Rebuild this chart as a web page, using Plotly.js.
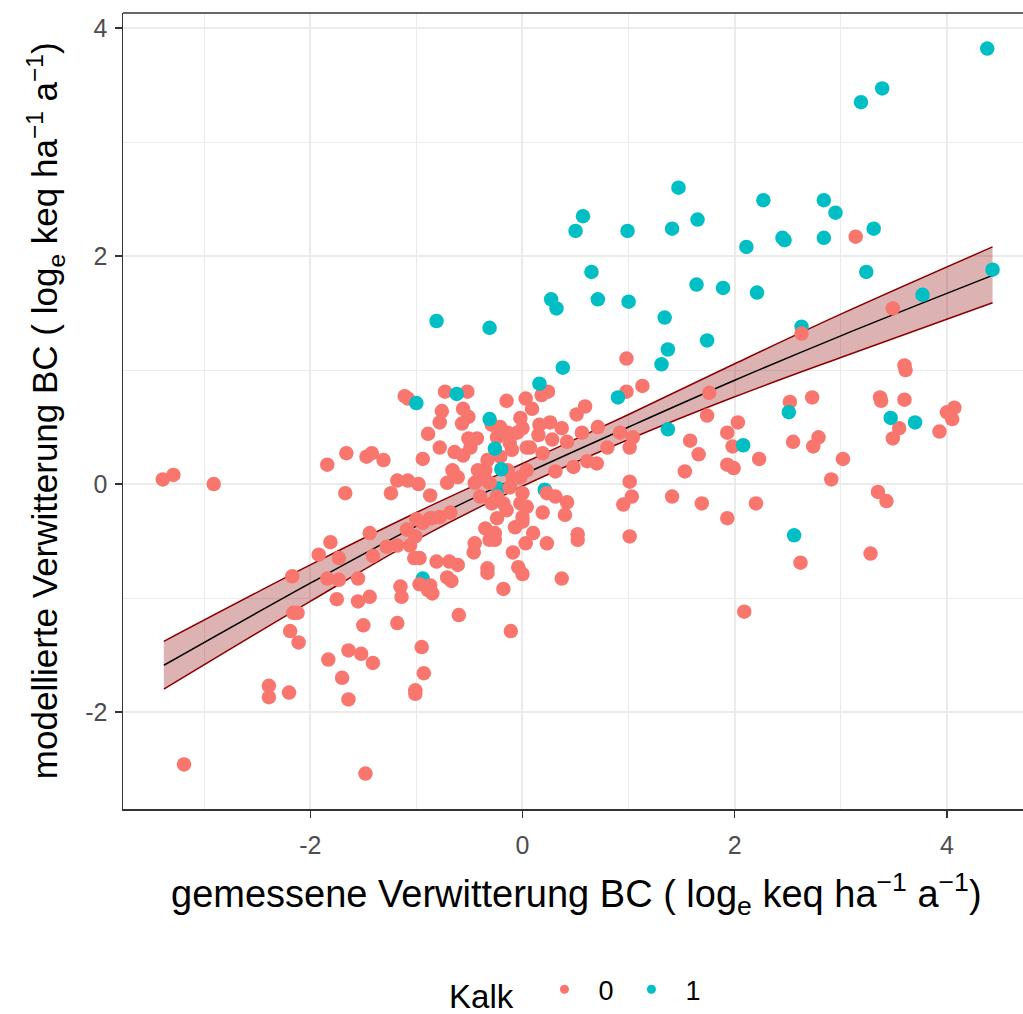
<!DOCTYPE html>
<html>
<head>
<meta charset="utf-8">
<script src="https://cdn.plot.ly/plotly-3.0.1.min.js"></script>
<style>html,body{margin:0;padding:0;background:#fff;overflow:hidden}#chart{width:1023px;height:1014px}</style>
</head>
<body>
<div id="chart"></div>
<script>
// Kalk = 0
const redX = [-3.39,-3.29,-2.91,-3.19,-2.39,-2.39,-2.20,-1.48,-1.64,-1.70,-1.83,-1.64,-1.52,-1.41,-1.50,-1.18,-0.95,-0.93,-1.01,-1.01,
-2.19,-2.11,-2.16,-2.12,-2.17,-1.92,-1.73,-1.81,-1.84,-1.73,-1.55,-1.75,-1.55,-1.44,-1.41,-1.28,-1.18,-1.06,-1.02,-1.15,
-1.14,-0.97,-0.89,-0.87,-0.85,-0.97,-0.81,-0.69,-0.61,-0.46,-0.71,-0.67,-0.60,-0.33,-0.33,-0.18,-0.11,-0.09,-0.04,0.00,
0.03,0.23,0.37,0.52,1.01,-0.31,-0.26,-1.66,-1.84,-1.47,-1.42,-1.31,-0.94,-1.18,-1.08,-0.98,-1.67,-1.24,-0.87,-1.00,
-0.87,-1.44,-1.09,-1.01,-1.11,-1.08,-0.89,0.98,1.13,0.98,1.76,1.74,-0.73,-0.52,-0.15,0.03,0.24,0.18,0.09,0.59,
0.51,-0.76,-0.56,-0.51,-0.78,-0.57,-0.78,-0.51,-0.43,-0.21,-0.02,0.00,0.16,0.26,0.37,0.15,0.28,0.42,0.56,0.71,
0.92,1.04,1.01,0.80,1.58,1.66,1.93,1.93,1.53,0.70,0.48,0.61,0.31,0.19,0.07,-0.12,-0.05,-0.64,-0.56,-0.49,
-0.66,-0.61,-0.71,-0.45,-0.35,-0.42,-0.14,-0.02,0.04,-0.12,0.00,-0.40,-0.29,-0.18,0.04,0.23,0.31,0.42,0.40,0.19,
0.00,-0.24,-0.35,-0.26,-0.07,0.00,0.10,0.52,1.01,1.03,0.95,1.41,1.69,1.93,-0.45,-0.78,-0.85,-0.68,-0.94,-0.29,
-0.24,-0.14,-0.10,-0.33,-0.21,0.04,-0.35,-0.31,-0.24,-0.09,-0.02,-0.15,3.14,3.49,3.60,3.61,3.37,3.38,3.60,2.52,
2.73,4.00,4.07,4.05,3.93,3.55,3.49,2.03,1.98,2.55,2.79,2.74,2.23,1.99,2.20,2.09,2.62,3.28,3.02,2.91,
3.35,3.43,2.63];
const redY = [0.04,0.08,0.00,-2.46,-1.77,-1.87,-1.83,-2.54,-1.89,-1.70,-1.54,-1.46,-1.49,-1.57,-1.24,-1.22,-1.43,-1.66,-1.81,-1.84,
-1.29,-1.39,-1.13,-1.13,-0.81,-0.62,-0.65,-0.51,-0.83,-0.84,-0.83,-1.01,-1.03,-0.99,-0.63,-0.55,-0.54,-0.54,-0.65,-0.90,
-0.99,-0.88,-0.93,-0.89,-0.96,-0.65,-0.68,-0.68,-0.71,-0.60,-0.82,-0.85,-1.15,-0.74,-0.78,-0.92,-1.29,-0.60,-0.73,-0.79,
-0.52,-0.52,-0.83,-0.49,-0.46,-0.49,-0.49,0.27,0.17,0.24,0.27,0.21,0.22,0.03,0.03,0.00,-0.08,-0.08,-0.10,-0.31,
-0.30,-0.43,-0.40,-0.46,0.77,0.75,0.44,1.10,0.86,0.81,0.80,0.60,0.81,0.81,0.73,0.75,0.81,0.78,0.66,0.68,
0.61,0.64,0.66,0.59,0.54,0.53,0.32,0.40,0.40,0.50,0.58,0.49,0.52,0.54,0.49,0.43,0.39,0.37,0.45,0.50,
0.45,0.41,0.32,0.32,0.38,0.26,0.45,0.17,0.11,0.18,0.15,0.20,0.11,0.27,0.32,0.36,0.45,0.28,0.25,0.32,
0.12,0.06,0.01,0.01,0.04,0.12,0.12,0.06,0.12,-0.03,-0.08,-0.11,-0.17,-0.17,-0.20,-0.08,-0.11,-0.16,-0.27,-0.25,
-0.29,-0.30,-0.39,-0.43,-0.38,-0.33,-0.43,-0.44,0.02,-0.11,-0.18,-0.11,-0.17,-0.30,-0.52,-0.29,-0.30,-0.25,-0.34,0.52,
0.41,0.45,0.30,0.21,0.24,0.32,0.12,0.01,-0.11,0.04,-0.17,-0.23,2.17,1.54,1.04,1.00,0.76,0.73,0.74,0.72,
0.76,0.63,0.67,0.57,0.46,0.49,0.40,0.54,0.33,0.37,0.41,0.33,0.22,0.14,-0.17,-1.12,-0.69,-0.61,0.22,0.04,
-0.07,-0.15,1.32];
// Kalk = 1
const cyanX = [4.38,3.39,3.19,2.27,2.84,2.95,2.45,2.47,2.84,3.31,2.11,1.47,0.57,0.50,0.99,1.41,1.65,0.65,1.64,0.27,
0.32,0.71,1.00,1.34,-0.81,-0.31,1.74,1.37,1.31,0.38,0.16,-0.62,-1.00,0.90,1.37,-0.31,-0.26,-0.20,0.21,-0.23,
-0.94,1.89,2.21,3.24,4.43,3.77,2.63,2.51,3.47,3.70,2.08,2.56];
const cyanY = [3.82,3.47,3.35,2.49,2.49,2.38,2.16,2.14,2.16,2.24,2.08,2.60,2.35,2.22,2.22,2.24,2.32,1.86,1.75,1.62,
1.54,1.62,1.60,1.46,1.43,1.37,1.26,1.18,1.05,1.02,0.88,0.79,0.71,0.76,0.48,0.57,0.31,0.13,-0.05,-0.04,
-0.83,1.72,1.68,1.86,1.88,1.66,1.38,0.63,0.58,0.54,0.34,-0.45];
// Kalk = 1 points that lie underneath Kalk = 0 points (indices into cyanX/cyanY)
const cyanBehind = [38,39,40,46];
// fitted line with confidence band
const fitX  = [-3.38,-2.00,-1.00,0.00,1.00,2.00,3.00,4.43];
const fitY  = [-1.59,-0.87,-0.37,0.08,0.50,0.91,1.30,1.83];
const fitLo = [-1.80,-1.03,-0.49,-0.02,0.39,0.765,1.11,1.59];
const fitHi = [-1.38,-0.71,-0.25,0.18,0.61,1.055,1.49,2.08];
// ticks
const majorTicks = [-2,0,2,4];
const majorTickText = ['-2','0','2','4'];
const xMinor = [-3,-1,1,3];
const yMinor = [-1,1,3];

const RED = '#F8766D', CYAN = '#00BFC4';
const FONT = 'Liberation Sans, Arial, sans-serif';

const backIdx = cyanBehind, frontIdx = cyanX.map((_, i) => i).filter(i => !cyanBehind.includes(i));
const pick = (arr, idx) => idx.map(i => arr[i]);
const pt = (x, y, c) => ({x, y, type:'scatter', mode:'markers', showlegend:false, hoverinfo:'skip',
   marker:{color:c, size:14.5, line:{width:0}}});

const traces = [
  {x: fitX, y: fitLo, type:'scatter', mode:'lines', showlegend:false, hoverinfo:'skip',
   line:{color:'#8B0000', width:1.5, shape:'spline'}},
  {x: fitX, y: fitHi, type:'scatter', mode:'lines', showlegend:false, hoverinfo:'skip',
   fill:'tonexty', fillcolor:'rgba(139,0,0,0.3)', line:{color:'#8B0000', width:1.5, shape:'spline'}},
  {x: fitX, y: fitY, type:'scatter', mode:'lines', showlegend:false, hoverinfo:'skip',
   line:{color:'#000000', width:1.5, shape:'spline'}},
  pt(pick(cyanX, backIdx), pick(cyanY, backIdx), CYAN),
  pt(redX, redY, RED),
  pt(pick(cyanX, frontIdx), pick(cyanY, frontIdx), CYAN),
  {x:[null], y:[null], type:'scatter', mode:'markers', name:'0', marker:{color:RED, size:9}},
  {x:[null], y:[null], type:'scatter', mode:'markers', name:'1', marker:{color:CYAN, size:9}}
];

const axisCommon = {
  tickvals: majorTicks, ticktext: majorTickText, tickmode:'array',
  showgrid:true, gridcolor:'#EBEBEB', gridwidth:2,
  zeroline:false, showline:true, linecolor:'#333333', linewidth:1.5,
  ticks:'outside', ticklen:7, tickwidth:1.5, tickcolor:'#333333',
  tickfont:{family:FONT, size:25, color:'#4D4D4D'}, automargin:false
};

const layout = {
  width:1023, height:1014,
  margin:{l:123, r:0, t:13, b:205, autoexpand:false},
  paper_bgcolor:'#FFFFFF', plot_bgcolor:'#FFFFFF',
  font:{family:FONT},
  xaxis: Object.assign({}, axisCommon, {
    range:[-3.765, 4.717], ticklabelstandoff:6,
    minor:{tickmode:'array', tickvals:xMinor, showgrid:true, gridcolor:'#EBEBEB', gridwidth:1, ticks:''}
  }),
  yaxis: Object.assign({}, axisCommon, {
    range:[-2.851, 4.132], ticklabelstandoff:2,
    minor:{tickmode:'array', tickvals:yMinor, showgrid:true, gridcolor:'#EBEBEB', gridwidth:1, ticks:''}
  }),
  shapes:[{type:'line', xref:'paper', yref:'paper', x0:0, x1:1, y0:1, y1:1, line:{color:'#333333', width:1.5}}],
  annotations:[
    {text:'gemessene Verwitterung BC ( log<sub>e</sub> keq ha<sup>−1</sup> a<sup>−1</sup>)', xref:'paper', yref:'paper',
     x:0.5044, y:-0.1065, xanchor:'center', yanchor:'middle', showarrow:false,
     font:{family:FONT, size:38, color:'#000000'}},
    {text:'modellierte Verwitterung BC ( log<sub>e</sub> keq ha<sup>−1</sup> a<sup>−1</sup>)', xref:'paper', yref:'paper',
     x:-0.0867, y:0.501, xanchor:'center', yanchor:'middle', textangle:-90, showarrow:false,
     font:{family:FONT, size:35, color:'#000000'}}
  ],
  legend:{orientation:'h', traceorder:'normal', xref:'container', yref:'container',
    x:0.437, xanchor:'left', y:0.022, yanchor:'middle', itemwidth:58, entrywidth:14,
    title:{text:'Kalk ', font:{family:FONT, size:33, color:'#000000'}, side:'left'},
    font:{family:FONT, size:27, color:'#000000'}, bgcolor:'rgba(0,0,0,0)'}
};

Plotly.newPlot('chart', traces, layout, {staticPlot:true, displayModeBar:false});
</script>
</body>
</html>
